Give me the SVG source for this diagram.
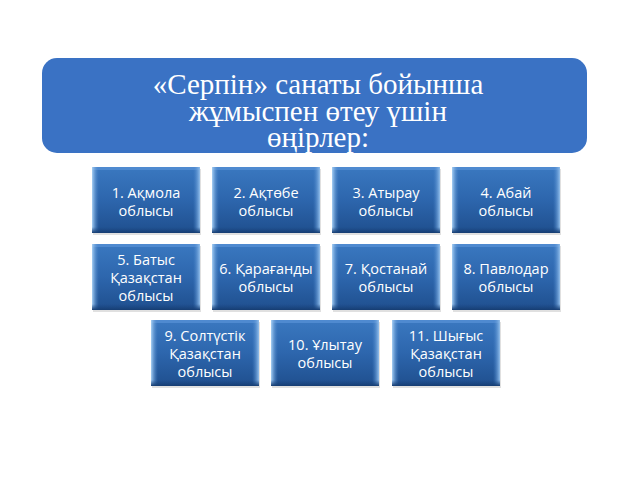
<svg xmlns="http://www.w3.org/2000/svg" width="640" height="480" viewBox="0 0 640 480">
<defs>
<linearGradient id="bg" x1="0" y1="0" x2="0" y2="1">
<stop offset="0" stop-color="#3a78c0"/>
<stop offset="0.5" stop-color="#2d66ad"/>
<stop offset="1" stop-color="#1f4f8e"/>
</linearGradient>
<linearGradient id="edgeL" x1="0" y1="0" x2="1" y2="0">
<stop offset="0" stop-color="#a8d0f4"/>
<stop offset="1" stop-color="#4a86cc" stop-opacity="0"/>
</linearGradient>
<linearGradient id="edgeR" x1="1" y1="0" x2="0" y2="0">
<stop offset="0" stop-color="#94c0ec"/>
<stop offset="1" stop-color="#4a86cc" stop-opacity="0"/>
</linearGradient>
<linearGradient id="edgeB" x1="0" y1="0" x2="0" y2="1">
<stop offset="0" stop-color="#1a4580" stop-opacity="0"/>
<stop offset="1" stop-color="#163d72"/>
</linearGradient>
<g id="bevel">
<rect x="0" y="0" width="108" height="66" fill="url(#bg)"/>
<rect x="0" y="0" width="108" height="3" fill="#4f8ad0"/>
<rect x="0" y="0" width="7" height="66" fill="url(#edgeL)"/>
<rect x="101" y="0" width="7" height="66" fill="url(#edgeR)"/>
<rect x="0" y="60" width="108" height="6" fill="url(#edgeB)"/>
</g>
</defs>
<style>
.hdr{font-family:"Liberation Serif","DejaVu Serif",serif;font-size:29px;fill:#ffffff;text-anchor:middle}
.lbl{font-family:"Open Sans","Liberation Sans",sans-serif;font-size:14.5px;fill:#ffffff;text-anchor:middle}
.sh{fill:#000;opacity:0.12}
</style>
<rect width="640" height="480" fill="#ffffff"/>
<g id="header">
<rect x="42" y="58" width="545" height="95" rx="15" ry="15" fill="#3a72c4"/>
<text class="hdr" x="318" y="94">«Серпін» санаты бойынша</text>
<text class="hdr" x="318" y="121">жұмыспен өтеу үшін</text>
<text class="hdr" x="318" y="147">өңірлер:</text>
</g>
<g id="n1" transform="translate(92,167)"><rect class="sh" x="1" y="2" width="108" height="66"/><use href="#bevel"/><text class="lbl" x="54" y="31">1. Ақмола</text><text class="lbl" x="54" y="49">облысы</text></g>
<g id="n2" transform="translate(212,167)"><rect class="sh" x="1" y="2" width="108" height="66"/><use href="#bevel"/><text class="lbl" x="54" y="31">2. Ақтөбе</text><text class="lbl" x="54" y="49">облысы</text></g>
<g id="n3" transform="translate(332,167)"><rect class="sh" x="1" y="2" width="108" height="66"/><use href="#bevel"/><text class="lbl" x="54" y="31">3. Атырау</text><text class="lbl" x="54" y="49">облысы</text></g>
<g id="n4" transform="translate(452,167)"><rect class="sh" x="1" y="2" width="108" height="66"/><use href="#bevel"/><text class="lbl" x="54" y="31">4. Абай</text><text class="lbl" x="54" y="49">облысы</text></g>
<g id="n5" transform="translate(92,244)"><rect class="sh" x="1" y="2" width="108" height="66"/><use href="#bevel"/><text class="lbl" x="54" y="21">5. Батыс</text><text class="lbl" x="54" y="39">Қазақстан</text><text class="lbl" x="54" y="57">облысы</text></g>
<g id="n6" transform="translate(212,244)"><rect class="sh" x="1" y="2" width="108" height="66"/><use href="#bevel"/><text class="lbl" x="54" y="30">6. Қарағанды</text><text class="lbl" x="54" y="48">облысы</text></g>
<g id="n7" transform="translate(332,244)"><rect class="sh" x="1" y="2" width="108" height="66"/><use href="#bevel"/><text class="lbl" x="54" y="30">7. Қостанай</text><text class="lbl" x="54" y="48">облысы</text></g>
<g id="n8" transform="translate(452,244)"><rect class="sh" x="1" y="2" width="108" height="66"/><use href="#bevel"/><text class="lbl" x="54" y="30">8. Павлодар</text><text class="lbl" x="54" y="48">облысы</text></g>
<g id="n9" transform="translate(151,320)"><rect class="sh" x="1" y="2" width="108" height="66"/><use href="#bevel"/><text class="lbl" x="54" y="21">9. Солтүстік</text><text class="lbl" x="54" y="39">Қазақстан</text><text class="lbl" x="54" y="57">облысы</text></g>
<g id="n10" transform="translate(271,320)"><rect class="sh" x="1" y="2" width="108" height="66"/><use href="#bevel"/><text class="lbl" x="54" y="30">10. Ұлытау</text><text class="lbl" x="54" y="48">облысы</text></g>
<g id="n11" transform="translate(392,320)"><rect class="sh" x="1" y="2" width="108" height="66"/><use href="#bevel"/><text class="lbl" x="54" y="21">11. Шығыс</text><text class="lbl" x="54" y="39">Қазақстан</text><text class="lbl" x="54" y="57">облысы</text></g>
<g id="connectors"/>
</svg>
